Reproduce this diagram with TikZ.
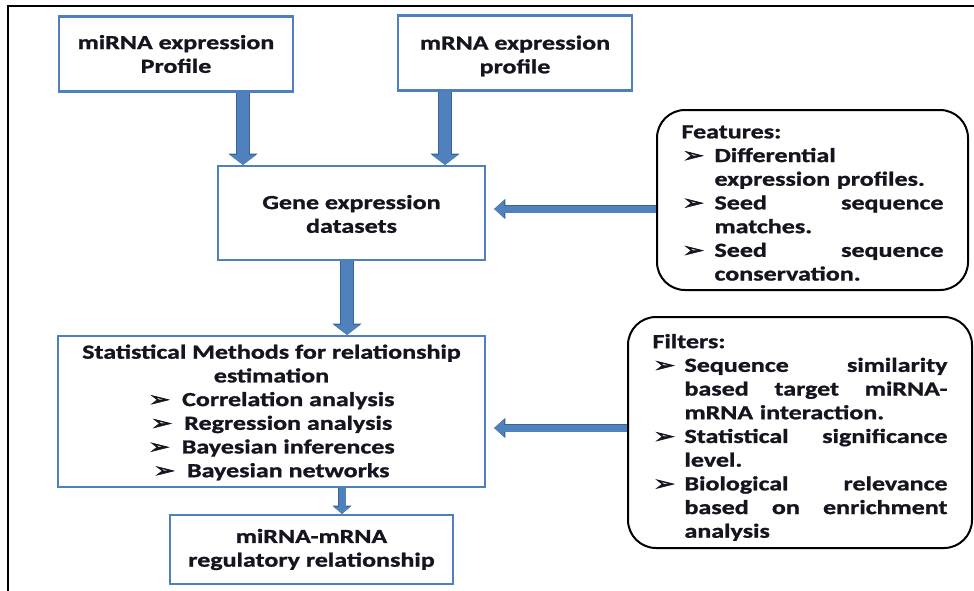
\documentclass[tikz,border=0pt]{standalone}
\usepackage{fontspec}
\setmainfont{Carlito}[FakeStretch=1.3, BoldFeatures={FakeBold=1.2}]
\newfontfamily\symfont{DejaVu Sans}[FakeStretch=1.3, FakeBold=2.5]
\usetikzlibrary{arrows.meta,calc}

\definecolor{boxblue}{HTML}{4F7FBD}
\definecolor{arrowfill}{HTML}{4F81BD}
\definecolor{arrowedge}{HTML}{3A6397}
\definecolor{ink}{HTML}{15151F}

\pgfdeclarelayer{bg}
\pgfsetlayers{bg,main}

% arrowhead bullet and list lines
\newcommand\arrbul{{\symfont\fontsize{20}{20}\selectfont ➢}}
\newcommand\bulline[2]{\hbox to \linewidth{\hbox to #1{\hspace*{1pt}\arrbul\hss}#2}}
\newcommand\contline[2]{\hbox to \linewidth{\hspace*{#1}#2}}

\tikzset{
  txt/.style={font=\bfseries\fontsize{20}{23.7}\selectfont, text=ink},
  bluebox/.style={txt, draw=boxblue, line width=2.2pt, fill=white,
    inner sep=0pt, align=center},
  roundbox/.style={txt, draw=black, line width=2pt, fill=white,
    rounded corners=28pt, inner sep=0pt, align=left},
  fatarrow/.style={arrowfill, line width=12pt,
    -{Triangle[width=26pt,length=10pt]},
    preaction={draw=arrowedge, line width=13.6pt,
      -{Triangle[width=28.5pt,length=11.2pt]}}},
  thinarrow/.style={arrowfill, line width=7pt,
    -{Triangle[width=17pt,length=10pt]},
    preaction={draw=arrowedge, line width=8.4pt,
      -{Triangle[width=19.5pt,length=11.2pt]}}},
  smallarrow/.style={arrowfill, line width=7pt,
    -{Triangle[width=16pt,length=7pt]},
    preaction={draw=arrowedge, line width=8.4pt,
      -{Triangle[width=18.5pt,length=8.2pt]}}},
}

\begin{document}
\begin{tikzpicture}[x=1pt,y=-1pt]
  \useasboundingbox (0,0) rectangle (974,590);
  \clip (0,0) rectangle (974,590);

  % outer frame
  \draw[line width=2pt] (8,6) rectangle (990,610);

  % flow boxes
  \node[bluebox, minimum width=234pt, minimum height=75pt] (mir) at (176,54)
    {miRNA expression\\Profile};
  \node[bluebox, minimum width=234pt, minimum height=75pt] (mrna) at (515,53)
    {\rule{0pt}{20pt}mRNA expression\\profile};
  \node[bluebox, minimum width=267pt, minimum height=94pt] (gene) at (351.5,213)
    {\rule{0pt}{16pt}Gene expression\\datasets};
  \node[bluebox, minimum width=427pt, minimum height=151pt] (stat) at (271.5,411.5)
    {\rule{0pt}{16pt}Statistical Methods for relationship\\
     estimation\\
     \arrbul\ \ Correlation analysis\\
     \arrbul\ \ Regression analysis\\
     \arrbul\ \ Bayesian inferences\\
     \arrbul\ \ Bayesian networks};
  \node[bluebox, minimum width=283pt, minimum height=69pt] (rel) at (311.5,549.5)
    {miRNA-mRNA\\regulatory relationship};

  % side boxes
  \node[roundbox, minimum width=311pt, minimum height=180pt, text width=262pt]
    (feat) at (812.5,200) {\baselineskip=24pt
    \contline{0pt}{\rule{0pt}{19pt}Features:\hfill}
    \bulline{33pt}{Differential\hfill}
    \contline{33pt}{expression profiles.\hfill}
    \bulline{33pt}{Seed\hfill sequence}
    \contline{33pt}{matches.\hfill}
    \bulline{33pt}{Seed\hfill sequence}
    \contline{33pt}{conservation.\hfill}};
  \node[roundbox, minimum width=344pt, minimum height=231pt, text width=295pt]
    (filt) at (800,432.5) {\baselineskip=23.8pt
    \contline{0pt}{\rule{0pt}{24pt}Filters:\hfill}
    \bulline{32pt}{Sequence\hfill similarity}
    \contline{32pt}{based\hfill target\hfill miRNA-}
    \contline{32pt}{mRNA interaction.\hfill}
    \bulline{32pt}{Statistical\hfill significance}
    \contline{32pt}{level.\hfill}
    \bulline{32pt}{Biological\hfill relevance}
    \contline{32pt}{based\hfill on\hfill enrichment}
    \contline{32pt}{analysis\hfill}};

  % arrow axes
  \coordinate (ax1) at (243,0);
  \coordinate (ax2) at (445,0);
  \coordinate (ax3) at (347,0);
  \coordinate (ax4) at (342,0);
  \coordinate (ay1) at (0,209);
  \coordinate (ay2) at (0,428);

  \begin{pgfonlayer}{bg}
    \draw[fatarrow] (mir.south -| ax1) -- (gene.north -| ax1);
    \draw[fatarrow] (mrna.south -| ax2) -- (gene.north -| ax2);
    \draw[fatarrow] (gene.south -| ax3) -- (stat.north -| ax3);
    \draw[smallarrow] (stat.south -| ax4) -- (rel.north -| ax4);
    \draw[thinarrow] (feat.west |- ay1) -- ([xshift=8pt]gene.east |- ay1);
    \draw[thinarrow] (filt.west |- ay2) -- ([xshift=8pt]stat.east |- ay2);
  \end{pgfonlayer}
\end{tikzpicture}
\end{document}
